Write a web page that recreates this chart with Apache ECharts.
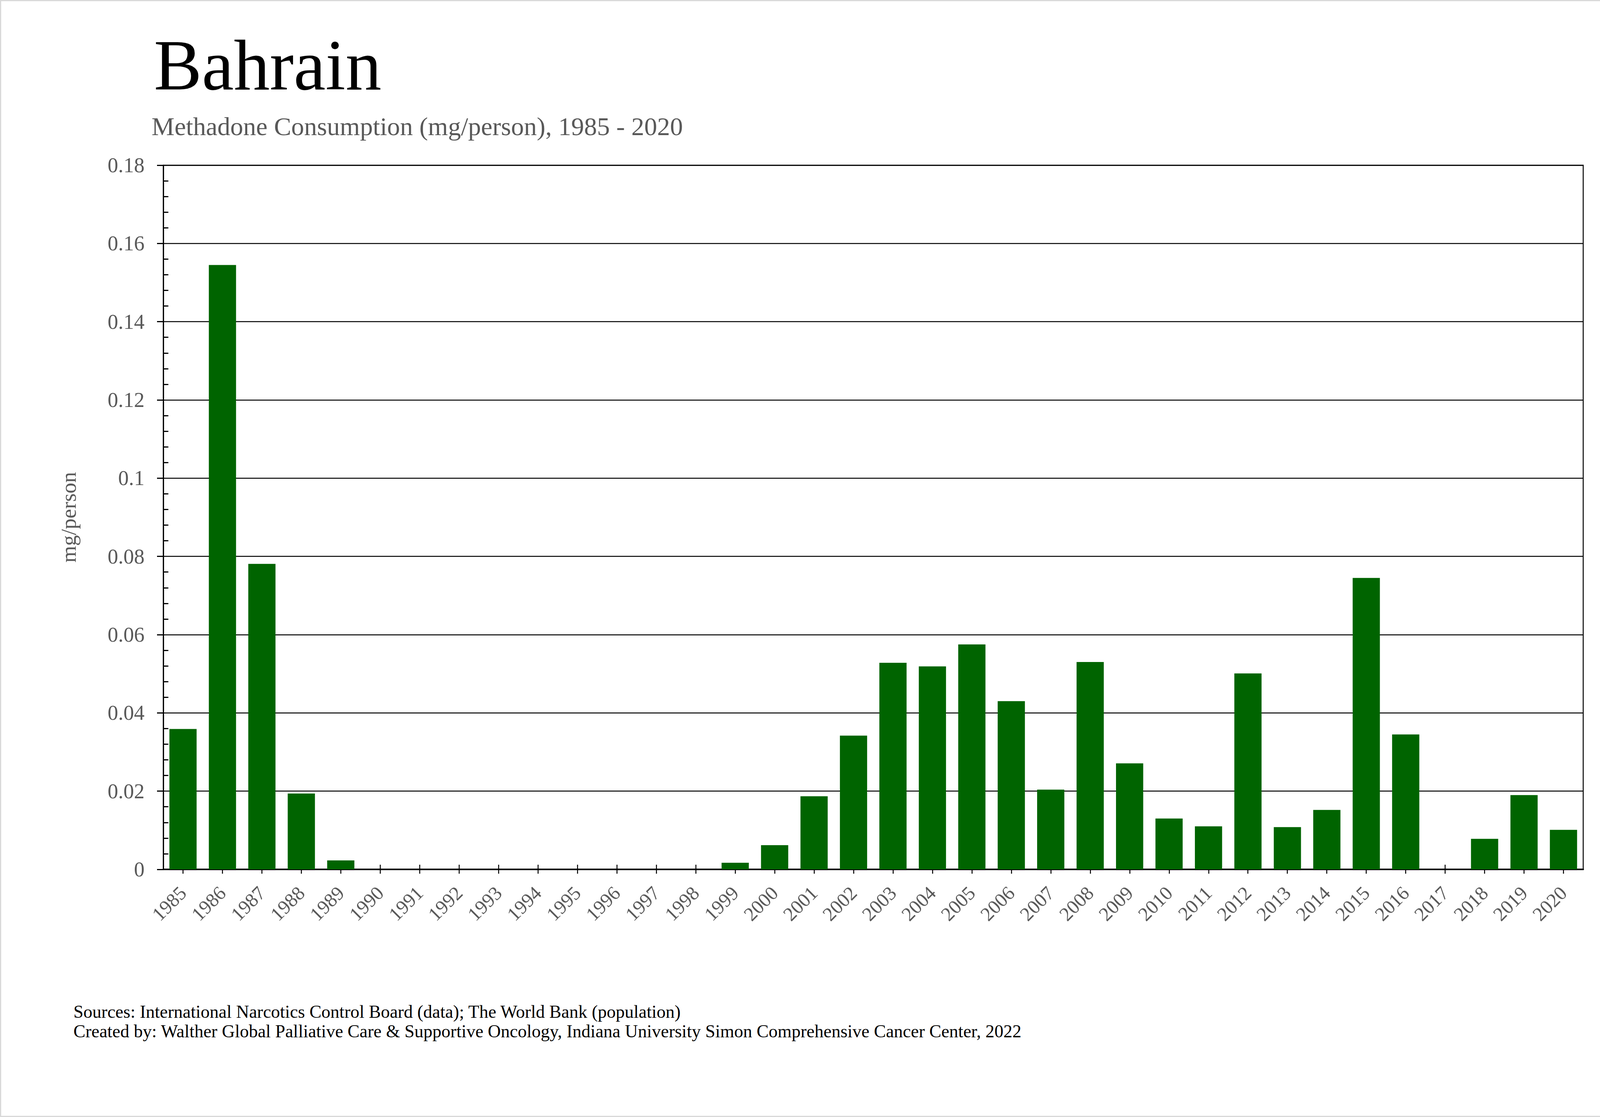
<!DOCTYPE html>
<html>
<head>
<meta charset="utf-8">
<script src="https://cdn.jsdelivr.net/npm/echarts@6/dist/echarts.min.js"></script>
<style>
html,body{margin:0;padding:0;background:#fff;}
#chart{width:4221px;height:2860px;}
</style>
</head>
<body>
<div id="chart"></div>
<script>
var years = ['1985','1986','1987','1988','1989','1990','1991','1992','1993','1994','1995','1996',
  '1997','1998','1999','2000','2001','2002','2003','2004','2005','2006','2007','2008',
  '2009','2010','2011','2012','2013','2014','2015','2016','2017','2018','2019','2020'];
var values = [0.0359,0.1545,0.0781,0.0194,0.0023,0,0,0,0,0,0,0,
  0,0,0.0017,0.0062,0.0187,0.0342,0.0528,0.0519,0.0575,0.0430,0.0204,0.0530,
  0.0271,0.0130,0.0110,0.0501,0.0108,0.0152,0.0745,0.0345,0,0.0078,0.0190,0.0101];
var yTicks = {min:0, max:0.18, interval:0.02};
var titleText = 'Bahrain';
var subtitleText = 'Methadone Consumption (mg/person), 1985 - 2020';
var yName = 'mg/person';
var footer1 = 'Sources: International Narcotics Control Board (data); The World Bank (population)';
var footer2 = 'Created by: Walther Global Palliative Care & Supportive Oncology, Indiana University Simon Comprehensive Cancer Center, 2022';

var FONT = '"Liberation Serif", "Times New Roman", serif';
var GRAY = '#595959';
var chart = echarts.init(document.getElementById('chart'), null, {renderer:'svg'});
chart.setOption({
  backgroundColor:'#fff',
  animation:false,
  title:[
    {text:titleText, left:389, top:70, textStyle:{fontFamily:FONT, fontSize:184, fontWeight:'normal', color:'#000'}},
    {text:subtitleText, left:383, top:285, textStyle:{fontFamily:FONT, fontSize:66, fontWeight:'normal', color:GRAY}},
    {text:footer1, left:183, top:2562, textStyle:{fontFamily:FONT, fontSize:46, fontWeight:'normal', color:'#000'}},
    {text:footer2, left:183, top:2612, textStyle:{fontFamily:FONT, fontSize:46, fontWeight:'normal', color:'#000'}}
  ],
  graphic:[
    {type:'rect', shape:{x:1.5, y:1.5, width:4218, height:2857}, style:{fill:'none', stroke:'#d9d9d9', lineWidth:3}, silent:true, z:-1}
  ],
  grid:{left:418, right:168, top:423, bottom:634, show:true, borderColor:'#000', borderWidth:2.5, backgroundColor:'transparent'},
  xAxis:[
    {type:'category', data:years, position:'bottom',
      axisLine:{show:true, lineStyle:{color:'#000', width:4}},
      axisTick:{show:true, alignWithLabel:true, length:11, lineStyle:{color:'#000', width:2.5}},
      axisLabel:{rotate:45, margin:52, fontFamily:FONT, fontSize:50, color:GRAY, interval:0},
      splitLine:{show:false}},
    {type:'category', data:years, position:'bottom',
      axisLine:{show:false},
      axisTick:{show:true, inside:true, alignWithLabel:true, length:12, lineStyle:{color:'#000', width:2.5}},
      axisLabel:{show:false}, splitLine:{show:false}}
  ],
  yAxis:[
    {type:'value', min:yTicks.min, max:yTicks.max, interval:yTicks.interval, position:'left',
      name:yName, nameLocation:'middle', nameRotate:90, nameGap:215,
      nameTextStyle:{fontFamily:FONT, fontSize:55, color:GRAY},
      axisLine:{show:true, lineStyle:{color:'#000', width:3}},
      axisTick:{show:true, length:16, lineStyle:{color:'#000', width:3}},
      axisLabel:{margin:48, fontFamily:FONT, fontSize:54, color:GRAY},
      splitLine:{show:true, lineStyle:{color:'#000', width:2.5}}},
    {type:'value', min:yTicks.min, max:yTicks.max, interval:yTicks.interval, position:'left',
      axisLine:{show:false},
      axisTick:{show:false, inside:true},
      minorTick:{show:true, splitNumber:5, length:13, lineStyle:{color:'#000', width:3}},
      axisLabel:{show:false}, splitLine:{show:false}}
  ],
  series:[{type:'bar', data:values, xAxisIndex:0, yAxisIndex:0, barCategoryGap:'31%',
    itemStyle:{color:'#006400'}}]
});
</script>
</body>
</html>
